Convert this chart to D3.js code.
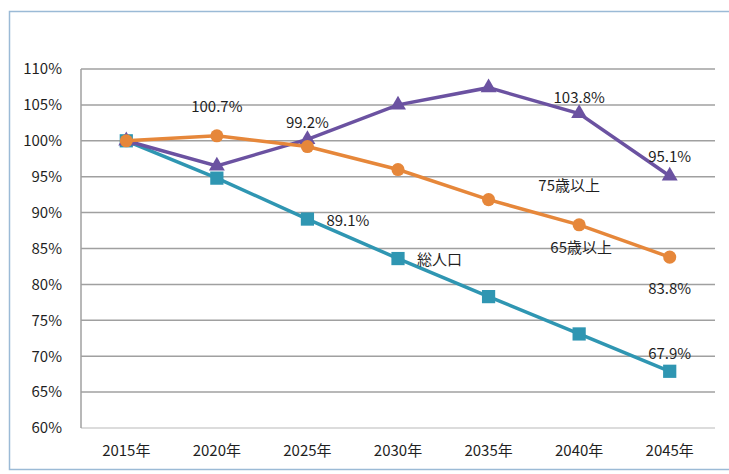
<!DOCTYPE html>
<html>
<head>
<meta charset="utf-8">
<script src="https://cdn.jsdelivr.net/npm/d3@7"></script>
<style>
  body { margin: 0; background: #fff; }
  text { font-family: "Noto Sans CJK JP", "Noto Sans", sans-serif; fill: #1f1f1f; }
</style>
</head>
<body>
<div id="chart"></div>
<script>
const years = ['2015年', '2020年', '2025年', '2030年', '2035年', '2040年', '2045年'];
const totalPop = [100, 94.8, 89.1, 83.6, 78.3, 73.1, 67.9];
const over65 = [100, 100.7, 99.2, 96.0, 91.8, 88.3, 83.8];
const over75 = [100, 96.5, 100.2, 105.0, 107.4, 103.8, 95.1];
const yTicks = [60, 65, 70, 75, 80, 85, 90, 95, 100, 105, 110];

// value labels: [series, index, text]
const valueLabels = [
  ['over65', 1, '100.7%'],
  ['over65', 2, '99.2%'],
  ['total', 2, '89.1%'],
  ['over75', 5, '103.8%'],
  ['over75', 6, '95.1%'],
  ['over65', 6, '83.8%'],
  ['total', 6, '67.9%']
];

const width = 729, height = 474;
const margin = {top: 69, right: 14, bottom: 46, left: 81};

const svg = d3.select('#chart').append('svg')
  .attr('width', width)
  .attr('height', height);

// outer frame
svg.append('rect')
  .attr('x', 9.5).attr('y', 11.5)
  .attr('width', width + 10).attr('height', 458)
  .attr('fill', 'none')
  .attr('stroke', '#9bbad6')
  .attr('stroke-width', 1.5);

const x = d3.scaleBand()
  .domain(years)
  .range([margin.left, width - margin.right]);

const y = d3.scaleLinear()
  .domain([60, 110])
  .range([height - margin.bottom, margin.top]);

// gridlines
svg.append('g')
  .selectAll('line')
  .data(yTicks)
  .enter().append('line')
  .attr('x1', margin.left)
  .attr('x2', width - margin.right)
  .attr('y1', d => y(d))
  .attr('y2', d => y(d))
  .attr('stroke', d => d === 60 ? '#d0d0d0' : '#a0a0a0')
  .attr('stroke-width', 1.5);

// left axis line
svg.append('line')
  .attr('x1', margin.left).attr('x2', margin.left)
  .attr('y1', margin.top).attr('y2', height - margin.bottom)
  .attr('stroke', '#a0a0a0')
  .attr('stroke-width', 1.5);

const yAxis = svg.append('g')
  .attr('transform', `translate(${margin.left},0)`)
  .call(d3.axisLeft(y).tickValues(yTicks).tickSize(0).tickPadding(19).tickFormat(d => d + '%'));
yAxis.select('.domain').remove();
yAxis.selectAll('text').style('font-size', '15px');

const xAxis = svg.append('g')
  .attr('transform', `translate(0,${height - margin.bottom})`)
  .call(d3.axisBottom(x).tickSize(0).tickPadding(17));
xAxis.select('.domain').remove();
xAxis.selectAll('text').style('font-size', '15px');

const series = [
  {key: 'total', values: totalPop, color: '#2f96b2', shape: d3.symbolSquare, size: 175},
  {key: 'over65', values: over65, color: '#e6873a', shape: d3.symbolCircle, size: 135},
  {key: 'over75', values: over75, color: '#6b52a1', shape: d3.symbolTriangle, size: 110}
];

const line = d3.line()
  .x((d, i) => x(years[i]) + x.bandwidth() / 2)
  .y(d => y(d));

// draw in back-to-front order like the original
[series[0], series[2], series[1]].forEach(s => {
  svg.append('path')
    .datum(s.values)
    .attr('fill', 'none')
    .attr('stroke', s.color)
    .attr('stroke-width', 3.5)
    .attr('d', line);
  svg.append('g')
    .selectAll('path')
    .data(s.values)
    .enter().append('path')
    .attr('transform', (d, i) => `translate(${x(years[i]) + x.bandwidth() / 2},${y(d)})`)
    .attr('d', d3.symbol().type(s.shape).size(s.size))
    .attr('fill', s.color);
});

const byKey = {};
series.forEach(s => { byKey[s.key] = s.values; });
const labelOffset = {
  'over65-1': [0, -30],
  'over65-2': [0, -25],
  'total-2': [19, 0],
  'over75-5': [0, -17],
  'over75-6': [0, -20],
  'over65-6': [0, 30],
  'total-6': [0, -19]
};

svg.append('g')
  .selectAll('text')
  .data(valueLabels)
  .enter().append('text')
  .attr('x', d => x(years[d[1]]) + x.bandwidth() / 2 + labelOffset[d[0] + '-' + d[1]][0])
  .attr('y', d => y(byKey[d[0]][d[1]]) + labelOffset[d[0] + '-' + d[1]][1])
  .attr('text-anchor', d => d[0] === 'total' && d[1] === 2 ? 'start' : 'middle')
  .attr('dominant-baseline', 'central')
  .style('font-size', '15px')
  .text(d => d[2]);

// series names: [text, anchor index, series, dx, dy]
const seriesNames = [
  ['総人口', 3, totalPop, 19, 0],
  ['65歳以上', 5, over65, 2, 22],
  ['75歳以上', 5, over75, -10, 71]
];
svg.append('g')
  .selectAll('text')
  .data(seriesNames)
  .enter().append('text')
  .attr('x', d => x(years[d[1]]) + x.bandwidth() / 2 + d[3])
  .attr('y', d => y(d[2][d[1]]) + d[4])
  .attr('text-anchor', d => d[0] === '総人口' ? 'start' : 'middle')
  .attr('dominant-baseline', 'central')
  .style('font-size', '15px')
  .text(d => d[0]);
</script>
</body>
</html>
